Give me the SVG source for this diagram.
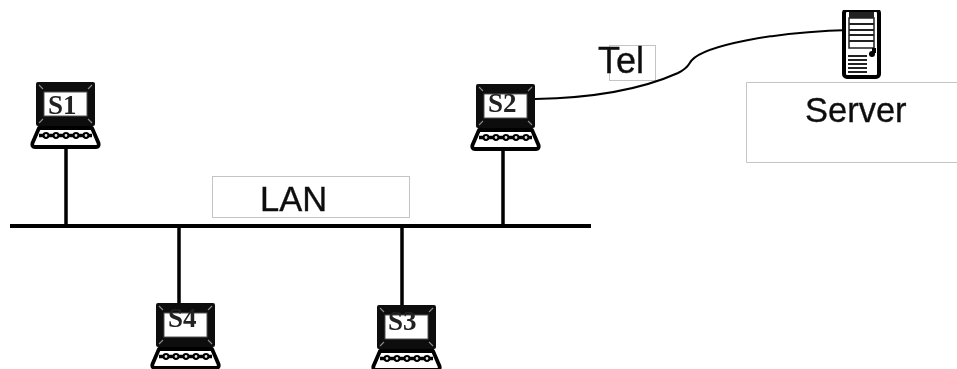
<svg xmlns="http://www.w3.org/2000/svg" width="957" height="369" viewBox="0 0 957 369">
<style>
.box{fill:#fff;stroke:#c4c4c4;stroke-width:1}
.lbl{font-family:"Liberation Sans",Arial,sans-serif;font-size:34.500px;fill:#111;stroke:#111;stroke-width:.35}
.s{font-family:"Liberation Serif","DejaVu Serif",serif;font-weight:bold;font-size:27px;fill:#222}
.wire{stroke:#000;fill:none;stroke-width:3.5}
</style>
<defs>
<filter id="soft" x="0" y="0" width="100%" height="100%"><feGaussianBlur stdDeviation="0.7"/></filter>
<g id="laptop">
<rect x="0" y="0" width="59" height="44" rx="2" fill="#0a0a0a"/>
<rect x="8" y="10" width="43" height="24" fill="#fff" stroke="#555" stroke-width="1"/>
<path d="M3 3l4 4M56 3l-4 4M3 41l4-4M56 41l-4-4" stroke="#888" stroke-width="1.200"/>
<path d="M3 46H56L62.500 61Q63.500 65 60 65H-1Q-4.500 65-3.500 61Z" fill="#fff" stroke="#000" stroke-width="3.800" stroke-linejoin="round"/>
<path d="M3 53.500H56" stroke="#000" stroke-width="3.500"/>
<g fill="#ddd" stroke="#000" stroke-width="2"><circle cx="10" cy="53.500" r="2.400"/><circle cx="20" cy="53.500" r="2.400"/><circle cx="30" cy="53.500" r="2.400"/><circle cx="40" cy="53.500" r="2.400"/><circle cx="50" cy="53.500" r="2.400"/></g>
</g>
</defs>
<g filter="url(#soft)">
<g id="labels">
<rect class="box" x="212.500" y="176.500" width="197" height="41"/>
<rect class="box" x="609.500" y="45.500" width="46" height="35"/>
<path class="box" d="M957 82.500H746.500V162.500H957"/>
<text class="lbl" x="260" y="211">LAN</text>
<text class="lbl" x="598" y="73" style="font-size:36px">Tel</text>
<text class="lbl" x="805" y="122">Server</text>
</g>
<g id="connectors">
<path class="wire" d="M10 226H591" style="stroke-width:4"/>
<path class="wire" d="M66 148V226M503 149V226M179 226V303M402 226V305"/>
<path d="M535 99C590 98 640 90 678 73C690 67 688 64 692 60C705 46 770 32 850 30" fill="none" stroke="#000" stroke-width="2"/>
</g>
<g id="S1"><use href="#laptop" x="36" y="82"/><text class="s" x="48" y="114">S1</text></g>
<g id="S2"><use href="#laptop" x="476" y="84"/><text class="s" x="488" y="112">S2</text></g>
<g id="S3"><use href="#laptop" x="377" y="305"/><text class="s" x="388" y="330">S3</text></g>
<g id="S4"><use href="#laptop" x="156" y="303"/><text class="s" x="168" y="327">S4</text></g>
<g id="Server-node">
<rect x="844" y="10" width="35" height="67" rx="3" fill="#fff" stroke="#000" stroke-width="4"/>
<rect x="849" y="12" width="25" height="6" fill="#222"/>
<rect x="849" y="18" width="25" height="30" fill="none" stroke="#222" stroke-width="1.500"/>
<path d="M849 24H874M849 30H874M849 35H874M849 41H874M848 56H867M848 60H867M848 64H867M848 68H867M848 72H867" stroke="#222" stroke-width="2" fill="none"/>
<path d="M874 48V53" stroke="#000" stroke-width="4"/>
<circle cx="872" cy="54" r="3" fill="#000"/>
</g>
</g>
</svg>
